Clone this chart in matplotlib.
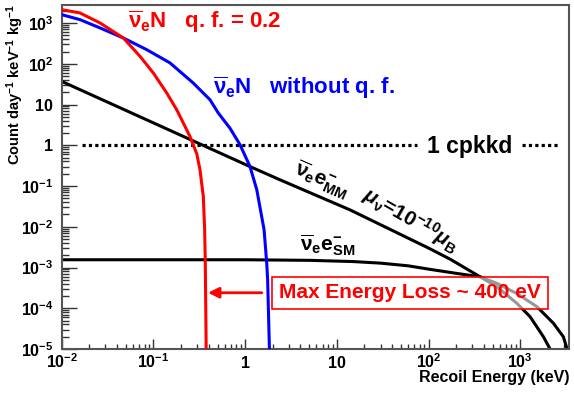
import matplotlib
matplotlib.use("Agg")
import matplotlib.pyplot as plt
from matplotlib.ticker import FixedLocator, LogLocator, NullFormatter

plt.rcParams['font.family'] = ['Liberation Sans', 'DejaVu Sans']
plt.rcParams['font.weight'] = 'bold'
plt.rcParams['mathtext.fontset'] = 'custom'
plt.rcParams['mathtext.rm'] = 'Liberation Sans:bold'
plt.rcParams['mathtext.it'] = 'Liberation Sans:italic:bold'
plt.rcParams['mathtext.bf'] = 'Liberation Sans:bold'
plt.rcParams['mathtext.sf'] = 'Liberation Sans:bold'

# --- data (keV, counts/day/keV/kg) ---
energy_qf = [0.01, 0.0158, 0.0262, 0.047, 0.0715, 0.0998, 0.1397, 0.1795,
             0.221, 0.251, 0.297, 0.322, 0.350, 0.362, 0.368, 0.376]
rate_qf = [2133, 1771, 1005, 430, 152, 59.4, 19.2, 7.45,
           2.90, 1.62, 0.618, 0.25, 0.0552, 0.0084, 1.28e-3, 1e-5]

energy_noqf = [0.01, 0.0158, 0.0262, 0.047, 0.0846, 0.1517, 0.272, 0.414, 0.51,
               0.684, 0.88, 1.13, 1.34, 1.61, 1.72, 1.76, 1.84]
rate_noqf = [1607, 1213, 758, 430, 222, 105, 33.7, 13.1, 6.18,
             2.62, 1.03, 0.301, 0.081, 0.0084, 1.28e-3, 4.96e-4, 1e-5]

energy_mm = [0.01, 1.13, 2.4, 13.9, 100, 172, 365,
             554, 916, 1280, 1787, 2113]
rate_mm = [37, 0.30, 0.142, 0.026, 3.0e-3, 1.6e-3, 5.9e-4,
           3.4e-4, 1.33e-4, 6.2e-5, 2.0e-5, 1e-5]

energy_sm = [0.01, 1, 5, 15, 30, 60, 104, 200, 365,
             554, 916, 1514, 2296, 2950, 3240]
rate_sm = [1.55e-3, 1.55e-3, 1.5e-3, 1.4e-3, 1.28e-3, 1.1e-3, 9.0e-4, 7.2e-4, 5.9e-4,
           4.1e-4, 2.3e-4, 1.1e-4, 4.3e-5, 2.0e-5, 1e-5]

cpkkd_left = [0.0165, 74]
cpkkd_right = [1040, 2600]
cpkkd_level = 1.0

arrow_from = (1.52, 2.4e-4)
arrow_to = (0.394, 2.4e-4)

xticks = [1e-2, 1e-1, 1, 10, 1e2, 1e3]
xticklabels = [r'10$^{-2}$', r'10$^{-1}$', '1', '10', r'10$^{2}$', r'10$^{3}$']
yticks = [1e-5, 1e-4, 1e-3, 1e-2, 1e-1, 1, 10, 1e2, 1e3]
yticklabels = [r'10$^{-5}$', r'10$^{-4}$', r'10$^{-3}$', r'10$^{-2}$', r'10$^{-1}$',
               '1', '10', r'10$^{2}$', r'10$^{3}$']

nubar = r'$\overline{\mathrm{\nu}}_\mathrm{e}$'

fig = plt.figure(figsize=(5.74, 3.96), dpi=100)
ax = fig.add_axes([0.1075, 0.1187, 0.8838, 0.8699])
ax.set_xscale('log')
ax.set_yscale('log')
ax.set_xlim(0.01, 3400)
ax.set_ylim(1e-5, 2850)

lw = 2.2
ax.plot(energy_qf, rate_qf, color='#ff0000', lw=lw, zorder=4)
ax.plot(energy_noqf, rate_noqf, color='#0000ff', lw=lw, zorder=3)
ax.plot(energy_mm, rate_mm, color='black', lw=lw, zorder=2)
ax.plot(energy_sm, rate_sm, color='black', lw=lw, zorder=2)

for seg in (cpkkd_left, cpkkd_right):
    ax.plot(seg, [cpkkd_level] * 2, color='black', lw=2.3,
            linestyle=(0, (1, 1)), dash_capstyle='butt', zorder=1)

# labels
ax.text(0.131, 0.949, nubar + 'N   q. f. = 0.2', color='#ff0000',
        fontsize=16, transform=ax.transAxes, ha='left', va='center')
ax.text(0.298, 0.757, nubar + 'N   without q. f.', color='#0000ff',
        fontsize=16, transform=ax.transAxes, ha='left', va='center')
ax.text(0.7195, 0.589, '1 cpkkd', fontsize=16.5, transform=ax.transAxes,
        ha='left', va='center')
ax.text(0.47, 0.302, nubar + r'$\mathrm{e}^{-}_{\mathrm{SM}}$', fontsize=15,
        transform=ax.transAxes, ha='left', va='center')
ax.text(0.513, 0.49, nubar + r'$\mathrm{e}^{-}_{\mathrm{MM}}$', fontsize=15,
        transform=ax.transAxes, ha='center', va='center', rotation=-23.5,
        rotation_mode='anchor')
ax.text(0.689, 0.3745, r'$\mu_\mathrm{\nu}$=10$^{-10}$$\mu_\mathrm{B}$', fontsize=15,
        transform=ax.transAxes, ha='center', va='center', rotation=-30,
        rotation_mode='anchor')

ax.text(0.6865, 0.1626, 'Max Energy Loss ~ 400 eV', color='#ff0000', fontsize=15,
        transform=ax.transAxes, ha='center', va='center', zorder=6,
        bbox=dict(boxstyle='square,pad=0.33', facecolor=(1, 1, 1, 0.6),
                  edgecolor='#ff0000', lw=1.2))
ax.annotate('', xy=arrow_to, xytext=arrow_from, zorder=6,
            arrowprops=dict(arrowstyle='-|>', color='#ff0000', lw=2,
                            mutation_scale=16, shrinkA=0, shrinkB=0))

# axes styling
for side in ('top', 'right', 'left', 'bottom'):
    ax.spines[side].set_color('#555555')
    ax.spines[side].set_linewidth(1.5)

ax.xaxis.set_major_locator(FixedLocator(xticks))
ax.set_xticklabels(xticklabels)
ax.yaxis.set_major_locator(FixedLocator(yticks))
ax.set_yticklabels(yticklabels)
ax.xaxis.set_minor_locator(LogLocator(base=10, subs=range(2, 10), numticks=100))
ax.yaxis.set_minor_locator(LogLocator(base=10, subs=range(2, 10), numticks=100))
ax.xaxis.set_minor_formatter(NullFormatter())
ax.yaxis.set_minor_formatter(NullFormatter())

ax.tick_params(axis='x', which='major', direction='in', length=7, width=1,
               color='#333333', labelsize=11.5, pad=14, top=False)
ax.tick_params(axis='x', which='minor', direction='in', length=3.6, width=1,
               color='#333333', top=False)
ax.tick_params(axis='y', which='major', direction='in', length=11, width=1,
               color='#333333', labelsize=11.5, pad=6, right=False)
ax.tick_params(axis='y', which='minor', direction='in', length=5, width=1,
               color='#333333', right=False)
for lbl in ax.get_xticklabels():
    lbl.set_verticalalignment('baseline')

ax.set_xlabel('Recoil Energy (keV)', fontsize=11.5, fontweight='bold', loc='right')
ax.xaxis.set_label_coords(1.0, -0.06)
ax.set_ylabel(r'Count day$^{-1}$ keV$^{-1}$ kg$^{-1}$', fontsize=10.5,
              fontweight='bold', loc='top')
ax.yaxis.set_label_coords(-0.07, 1.0)

fig.savefig('out.png', dpi=100)
